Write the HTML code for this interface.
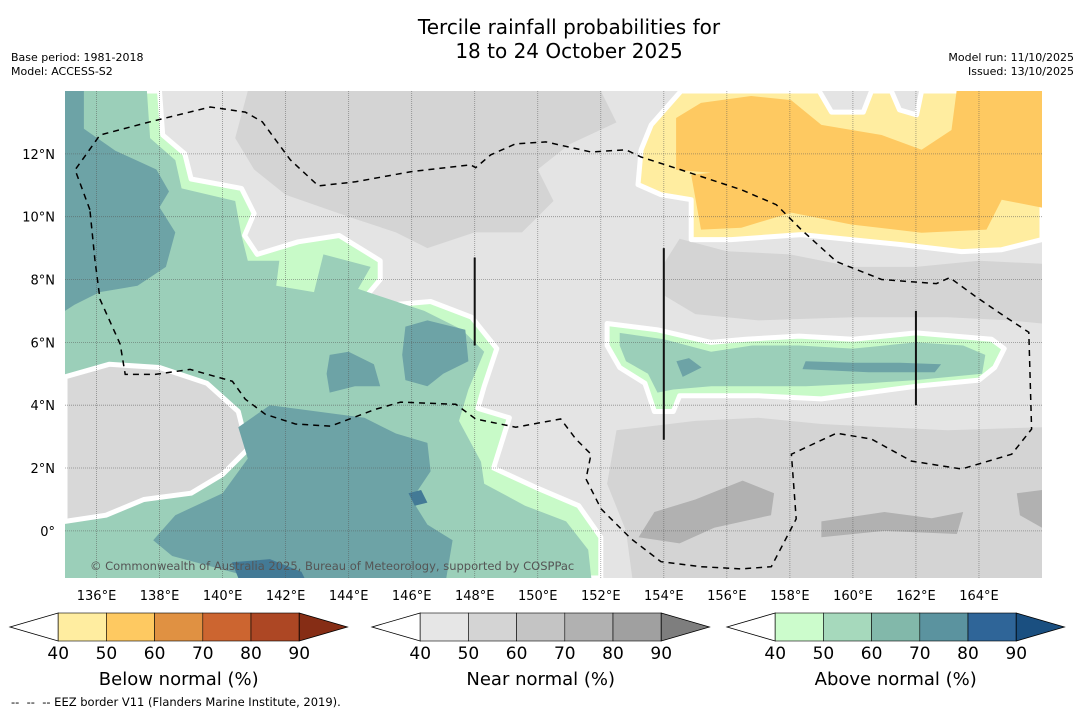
<!DOCTYPE html>
<html><head><meta charset="utf-8">
<style>
body{margin:0;background:#fff;font-family:"Liberation Sans","DejaVu Sans",sans-serif;}
#wrap{position:relative;width:1085px;height:713px;overflow:hidden;}
.t{position:absolute;white-space:nowrap;}
</style></head>
<body>
<div id="wrap">
<div class="t" style="left:0;width:1138px;top:15px;text-align:center;font-size:20px;line-height:24px;font-family:'DejaVu Sans',sans-serif;">Tercile rainfall probabilities for<br>18 to 24 October 2025</div>
<div class="t" style="left:11px;top:51px;font-size:11px;line-height:14px;font-family:'DejaVu Sans',sans-serif;">Base period: 1981-2018<br>Model: ACCESS-S2</div>
<div class="t" style="right:11px;top:51px;font-size:11px;line-height:14px;text-align:right;font-family:'DejaVu Sans',sans-serif;">Model run: 11/10/2025<br>Issued: 13/10/2025</div>
<svg id="map" width="1085" height="713" style="position:absolute;left:0;top:0;font-family:'DejaVu Sans',sans-serif;"></svg>
<div class="t" style="left:11px;top:695px;font-size:11.5px;font-family:'DejaVu Sans',sans-serif;">--&nbsp; --&nbsp; -- EEZ border V11 (Flanders Marine Institute, 2019).</div>
</div>
<script>
const lonTicks=[136,138,140,142,144,146,148,150,152,154,156,158,160,162,164];
const latTicks=[0,2,4,6,8,10,12];
const cbLabels=["40","50","60","70","80","90"];
const cbTitles=["Below normal (%)","Near normal (%)","Above normal (%)"];
const belowColors=["#fff","#ffeda0","#fec961","#e09142","#cc6530","#ad4724","#862d15"];
const nearColors=["#fff","#e6e6e6","#d4d4d4","#c4c4c4","#b1b1b1","#a0a0a0","#7e7e7e"];
const aboveColors=["#fff","#ccfccc","#a6d9bc","#82b8aa","#5b939f","#2f6598","#1a4f80"];
const greyMid1=[[140.8,14],[152,14],[152.5,13],[151,12.3],[150,11.5],[150.5,10.5],[149.5,9.5],[148,9.5],[146.5,9],[145.5,9.5],[144,10],[142,10.7],[141,11.5],[140.4,12.5]];
const greyMid2=[[154.5,9.3],[156,8.9],[158,8.8],[160,8.4],[162,8.4],[164,8.6],[166,8.5],[166,6.6],[165,6.7],[163,6.8],[160,6.8],[157,6.7],[155,6.9],[154,7.5],[154,8.5]];
const greyMid3=[[152.5,3.2],[155,3.5],[157,3.6],[159,3.4],[161,3.3],[163,3.2],[166,3.3],[166,-1.5],[153,-1.5],[152.8,0],[152.2,1.5]];
const greyDark1=[[153.7,0.6],[155,1],[156.5,1.6],[157.5,1.2],[157.4,0.5],[155.6,0.1],[154.5,-0.4],[153.2,-0.2]];
const greyDark2=[[159,0.3],[161,0.6],[162.5,0.4],[163.5,0.6],[163.3,-0.1],[161,0],[159,-0.2]];
const greyDark3=[[165.2,1.2],[166,1.3],[166,0.1],[165.3,0.5]];
const greenL1=[[135,14],[138,14],[138.1,12.6],[138.8,12],[139,11.2],[140.6,10.9],[141,10.1],[140.7,9.4],[141.1,8.8],[142.4,9.2],[143.7,9.4],[145,8.6],[145,8.0],[144.5,7.4],[145.4,7.2],[146.6,7.3],[147.9,6.8],[148.7,5.8],[148.3,4.6],[148.1,3.9],[149.1,3.6],[148.6,2],[149.9,1.4],[151.3,0.8],[152,-0.2],[152,-1.5],[135,-1.5]];
const greenM1=[[135,14],[137.6,14],[137.7,12.5],[138.5,11.8],[138.7,10.9],[140.4,10.5],[140.6,9.4],[140.8,8.6],[141.8,8.6],[141.7,7.8],[142.9,7.6],[143.2,8.8],[144.7,8.4],[144.3,7.7],[146.4,7],[147.6,6.4],[148.3,5.7],[147.8,4.5],[147.5,3.5],[148.2,2.2],[148.3,1.5],[149.6,0.8],[150.9,0.3],[151.6,-0.6],[151.7,-1.5],[135,-1.5]];
const greySW=[[135,4.9],[136.4,5.3],[138,5.2],[139.5,4.7],[140.5,3.8],[140.8,2.6],[140,1.8],[139,1.2],[137.5,1],[136.3,0.5],[135,0.3]];
const teal1=[[135,14],[135.6,14],[135.6,12.8],[136.6,12.1],[137.9,11.5],[138.3,10.8],[138,10.3],[138.5,9.5],[138.2,8.4],[137.3,7.8],[136.1,7.6],[135.3,7.2],[135,7]];
const teal2=[[140.5,3.3],[141.5,4],[143,3.8],[144.5,3.6],[145.5,3.1],[146.5,2.8],[146.6,1.9],[146,1],[146.5,0.2],[147.3,-0.3],[147.1,-1.5],[141,-1.5],[138.4,-0.8],[137.8,-0.3],[138.5,0.5],[140,1.2],[140.8,2.3]];
const teal3=[[145.8,6.5],[146.5,6.7],[147.7,6.4],[147.8,5.4],[147,5],[146.5,4.6],[145.8,4.8],[145.7,5.6]];
const teal4=[[143.4,5.6],[144,5.7],[144.8,5.3],[145,4.6],[144.2,4.6],[143.4,4.4],[143.3,5]];
const blue1=[[140.5,-1.5],[140.3,-1],[141.5,-0.9],[142.5,-1.3],[142.6,-1.5]];
const blue2=[[145.9,1.2],[146.3,1.3],[146.5,0.9],[146.1,0.8]];
const greenL2=[[152.2,6.6],[153.8,6.4],[155.5,6],[156.6,6.1],[158.3,6.2],[160,6.1],[162,6.3],[164.4,6.1],[164.8,5.8],[164.5,5.2],[164,4.8],[162,4.6],[160.5,4.4],[159,4.2],[157,4.3],[156,4.3],[154.5,4.3],[154.3,3.8],[153.7,3.8],[153.4,4.7],[152.6,5.2],[152.2,5.9]];
const greenM2=[[152.6,6.3],[154,6.1],[155.5,5.7],[156.8,5.9],[158.3,5.9],[160,5.8],[162,6],[163.5,5.9],[164.2,5.6],[164.1,5],[162,4.8],[160.5,4.7],[158.5,4.6],[157,4.6],[155.5,4.6],[154.3,4.5],[153.8,4.4],[153.5,5],[152.8,5.4],[152.6,5.9]];
const teal5=[[158.5,5.4],[160,5.35],[161.5,5.35],[162.8,5.3],[162.6,5.05],[160.5,5.05],[158.4,5.15]];
const teal6=[[154.4,5.4],[154.8,5.5],[155.2,5.2],[154.6,4.9]];
const yellow1=[[154.55,14],[153.6,12.92],[153.28,12.13],[153.18,11.02],[153.91,10.7],[154.87,10.54],[154.87,9.27],[156.14,9.27],[158.36,9.43],[161.54,9.11],[163.45,8.89],[164.72,8.95],[166,9.27],[166,14],[162.18,14],[162.02,13.24],[161.48,13.4],[161.22,14],[160.59,14],[160.33,13.33],[159.32,13.33],[158.93,14]];
const orange1=[[154.39,13.14],[155.18,13.62],[156.77,13.84],[158.04,13.71],[159,12.92],[160.91,12.6],[162.18,12.13],[163.13,12.76],[163.29,14],[166,14],[166,10.29],[164.72,10.54],[164.24,9.59],[162.18,9.49],[159.95,9.75],[158.05,10.13],[156.46,9.65],[155.18,9.59],[154.87,11.33],[155.5,11.4],[154.39,11.49]];
const eez=[[135.79,10.22],[135.32,11.49],[136.11,12.6],[137.7,13.02],[139.61,13.49],[140.72,13.33],[141.26,13.02],[142.15,11.81],[143.04,10.98],[144.22,11.11],[145.97,11.43],[147.87,11.65],[148.03,11.56],[148.51,11.97],[149.3,12.32],[150.26,12.38],[151.69,12.06],[152.8,12.13],[153.28,11.9],[154.55,11.49],[156.46,10.86],[157.57,10.38],[158.36,9.59],[159.48,8.57],[160.91,8.0],[162.65,7.87],[163.07,8.06],[163.93,7.43],[164.72,6.89],[165.58,6.32],[165.67,3.24],[165.04,2.44],[163.45,1.97],[161.86,2.22],[160.59,2.92],[159.48,3.11],[158.05,2.44],[158.2,0.38],[157.41,-1.14],[156.46,-1.21],[155.18,-1.14],[153.91,-0.98],[152.96,-0.25],[152.01,0.7],[151.53,1.65],[151.69,2.44],[151.21,2.92],[150.73,3.56],[149.3,3.3],[148.03,3.56],[147.4,4.03],[145.65,4.1],[144.85,3.87],[143.42,3.33],[142.31,3.4],[141.36,3.71],[140.72,4.19],[140.31,4.76],[138.97,5.14],[137.86,4.98],[136.91,4.98],[136.75,5.94],[136.11,7.37],[135.95,8.63],[135.79,10.22]];
const blackLines=[[148,8.7,5.9],[154,9.0,2.9],[162,7.0,4.0]];

const NS='http://www.w3.org/2000/svg';
const svg=document.getElementById('map');
const X0=65,X1=1042,Y0=91,Y1=578,LON0=135,LON1=166,LAT0=-1.5,LAT1=14;
const sx=l=>X0+(l-LON0)/(LON1-LON0)*(X1-X0);
const sy=l=>Y1-(l-LAT0)/(LAT1-LAT0)*(Y1-Y0);
function mk(tag,attrs,parent){const e=document.createElementNS(NS,tag);for(const k in attrs)e.setAttribute(k,attrs[k]);(parent||svg).appendChild(e);return e;}
const cp=mk('clipPath',{id:'mc'});mk('rect',{x:X0,y:Y0,width:X1-X0,height:Y1-Y0},cp);
const g=mk('g',{'clip-path':'url(#mc)'});
const bg=mk('rect',{x:X0,y:Y0,width:X1-X0,height:Y1-Y0,fill:'#e4e4e4'},g);


function poly(pts,fill,name,stroke){
  const p=mk('polygon',{points:pts.map(q=>sx(q[0]).toFixed(1)+','+sy(q[1]).toFixed(1)).join(' '),fill:fill,stroke:stroke||'none','stroke-width':stroke?5:0,'stroke-linejoin':'round'},g);
  
  
}
poly(greyMid1,'#d4d4d4','near-normal-50-north');
poly(greyMid2,'#d4d4d4','near-normal-50-east');
poly(greyMid3,'#d4d4d4','near-normal-50-south');
poly(greyDark1,'#b1b1b1','near-normal-70-a');
poly(greyDark2,'#b1b1b1','near-normal-70-b');
poly(greyDark3,'#b1b1b1','near-normal-70-c');
poly(greenL1,'#c8fac8','above-normal-40-west','#fff');
poly(greenM1,'#9bcfb9','above-normal-50-west');
poly(greySW,'#d8d8d8','near-normal-southwest','#fff');
poly(teal1,'#6da3a6','above-normal-60-northwest');
poly(teal2,'#6da3a6','above-normal-60-south');
poly(teal3,'#6da3a6','above-normal-60-central');
poly(teal4,'#6da3a6','above-normal-60-central-b');
poly(blue1,'#437a96','above-normal-70-a');
poly(blue2,'#437a96','above-normal-70-b');
poly(greenL2,'#c8fac8','above-normal-40-east','#fff');
poly(greenM2,'#9bcfb9','above-normal-50-east');
poly(teal5,'#6da3a6','above-normal-60-east');
poly(teal6,'#6da3a6','above-normal-60-east-b');
poly(yellow1,'#ffeda0','below-normal-40','#fff');
poly(orange1,'#fec961','below-normal-50');
lonTicks.forEach(l=>{const e=mk('line',{x1:sx(l),x2:sx(l),y1:Y0,y2:Y1,stroke:'#555','stroke-width':0.8,'stroke-dasharray':'1,1',opacity:0.6},g);});
latTicks.forEach(l=>{const e=mk('line',{x1:X0,x2:X1,y1:sy(l),y2:sy(l),stroke:'#555','stroke-width':0.8,'stroke-dasharray':'1,1',opacity:0.6},g);});
const ez=mk('polyline',{points:eez.map(q=>sx(q[0]).toFixed(1)+','+sy(q[1]).toFixed(1)).join(' '),fill:'none',stroke:'#000','stroke-width':1.5,'stroke-dasharray':'6,5'},g);


blackLines.forEach(b=>{const e=mk('line',{x1:sx(b[0]),x2:sx(b[0]),y1:sy(b[1]),y2:sy(b[2]),stroke:'#111','stroke-width':2},g);});
const cr=mk('text',{x:90,y:570,'font-size':11.5,fill:'#555'},g);cr.textContent='© Commonwealth of Australia 2025, Bureau of Meteorology, supported by COSPPac';


lonTicks.forEach(l=>{const t=mk('text',{x:sx(l),y:600,'font-size':13,'text-anchor':'middle'});t.textContent=l+'°E';});
latTicks.forEach(l=>{const t=mk('text',{x:55,y:sy(l)+5,'font-size':13,'text-anchor':'end'});t.textContent=l===0?'0°':l+'°N';});
const bars=[[10,belowColors,'below-normal-colorbar'],[372,nearColors,'near-normal-colorbar'],[727,aboveColors,'above-normal-colorbar']];
bars.forEach((b,bi)=>{
  const x=b[0],cols=b[1],w=48.2,y=613,h=28;
  const gg=mk('g',{});
  mk('polygon',{points:`${x+w},${y} ${x},${y+h/2} ${x+w},${y+h}`,fill:cols[0],stroke:'#000','stroke-width':0.8},gg);
  for(let i=1;i<=5;i++)mk('rect',{x:x+w*i,y:y,width:w,height:h,fill:cols[i],stroke:'#000','stroke-width':0.6},gg);
  mk('polygon',{points:`${x+w*6},${y} ${x+w*7},${y+h/2} ${x+w*6},${y+h}`,fill:cols[6],stroke:'#000','stroke-width':0.8},gg);
  cbLabels.forEach((s,i)=>{const t=mk('text',{x:x+w*(i+1),y:659,'font-size':17,'text-anchor':'middle'},gg);t.textContent=s;});
  const tt=mk('text',{x:x+w*3.5,y:685,'font-size':18,'text-anchor':'middle'},gg);tt.textContent=cbTitles[bi];
});
</script>
</body></html>
